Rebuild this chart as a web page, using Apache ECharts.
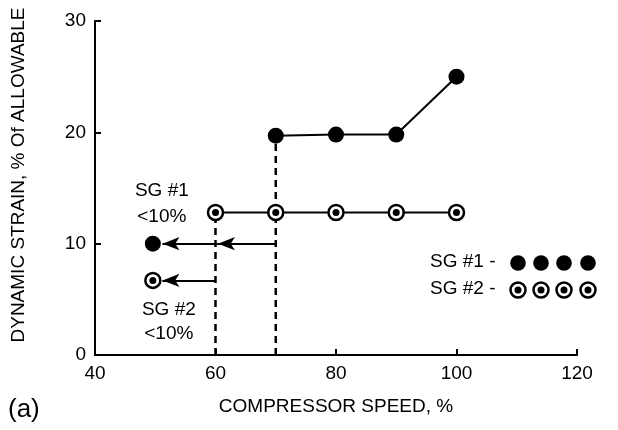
<!DOCTYPE html>
<html>
<head>
<meta charset="utf-8">
<script src="https://cdn.jsdelivr.net/npm/echarts@6/dist/echarts.min.js"></script>
<style>
  html, body { margin: 0; padding: 0; background: #fff; }
  #chart { width: 618px; height: 430px; }
</style>
</head>
<body>
<div id="chart"></div>
<script>
// data
var sg1Speed = [70, 80, 90, 100];
var sg1Strain = [19.7, 19.8, 19.8, 25];
var sg2Speed = [60, 70, 80, 90, 100];
var sg2Strain = [12.8, 12.8, 12.8, 12.8, 12.8];
var lowSpeed = 49.6;
var sg1Low = 10;
var sg2Low = 6.7;
var arrowTip = 51.2;
var xTicks = [40, 60, 80, 100, 120];
var yTicks = [0, 10, 20, 30];

var font = 'Liberation Sans, Arial, Helvetica, sans-serif';

function pairs(xs, ys) {
    var out = [];
    for (var i = 0; i < xs.length; i++) {
        out.push([xs[i], ys[i]]);
    }
    return out;
}

function madeChart() {
    var myChart = echarts.init(document.getElementById('chart'));

    var sg1 = pairs(sg1Speed, sg1Strain);
    var sg2 = pairs(sg2Speed, sg2Strain);
    var dash = { color: '#000', width: 2.5, type: [7, 5] };

    var option = {
        animation: false,
        grid: { left: 95, right: 41, top: 21, bottom: 75 },
        xAxis: {
            type: 'value', min: xTicks[0], max: xTicks[xTicks.length - 1], interval: 20,
            name: 'COMPRESSOR SPEED, %', nameLocation: 'middle', nameGap: 42,
            nameTextStyle: { fontFamily: font, fontSize: 19, color: '#000' },
            axisLine: { lineStyle: { color: '#000', width: 2 } },
            axisTick: { inside: true, length: 6, lineStyle: { color: '#000', width: 2 } },
            axisLabel: { fontFamily: font, fontSize: 19, color: '#000', margin: 9 },
            splitLine: { show: false }
        },
        yAxis: {
            type: 'value', min: yTicks[0], max: yTicks[yTicks.length - 1], interval: 10,
            name: 'DYNAMIC STRAIN, % Of ALLOWABLE', nameLocation: 'middle', nameGap: 67,
            nameTextStyle: { fontFamily: font, fontSize: 19, color: '#000', padding: [0, 0, 0, 26] },
            axisLine: { show: true, lineStyle: { color: '#000', width: 2 } },
            axisTick: { show: true, inside: true, length: 6, lineStyle: { color: '#000', width: 2 } },
            axisLabel: { fontFamily: font, fontSize: 19, color: '#000', margin: 9 },
            splitLine: { show: false }
        },
        series: [
            // dashed drops
            {
                type: 'line', symbol: 'none', z: 1,
                data: [[sg1Speed[0], 0], [sg1Speed[0], sg1Strain[0]]],
                lineStyle: dash
            },
            {
                type: 'line', symbol: 'none', z: 1,
                data: [[sg2Speed[0], 0], [sg2Speed[0], sg2Strain[0]]],
                lineStyle: dash
            },
            // arrows
            {
                type: 'line', symbol: 'none', data: [], z: 2,
                markLine: {
                    silent: true, symbol: ['none', 'arrow'], symbolSize: [10, 17],
                    lineStyle: { color: '#000', width: 2, type: 'solid' },
                    label: { show: false },
                    data: [
                        [{ coord: [sg1Speed[0], sg1Low] }, { coord: [60.4, sg1Low] }],
                        [{ coord: [60.4, sg1Low] }, { coord: [arrowTip, sg1Low] }],
                        [{ coord: [sg2Speed[0], sg2Low] }, { coord: [arrowTip, sg2Low] }]
                    ]
                }
            },
            // SG #1
            {
                type: 'line', data: sg1, z: 3,
                symbol: 'circle', symbolSize: 16,
                lineStyle: { color: '#000', width: 2 },
                itemStyle: { color: '#000' }
            },
            // SG #2 rings + dots
            {
                type: 'line', data: sg2, z: 3,
                symbol: 'circle', symbolSize: 15,
                lineStyle: { color: '#000', width: 2 },
                itemStyle: { color: '#fff', borderColor: '#000', borderWidth: 2.5 }
            },
            {
                type: 'scatter', data: sg2, z: 4, symbolSize: 7,
                itemStyle: { color: '#000', opacity: 1 }
            },
            // below 10% points
            {
                type: 'scatter', z: 4, symbolSize: 16,
                data: [[lowSpeed, sg1Low]],
                itemStyle: { color: '#000', opacity: 1 },
                label: {
                    show: true, position: 'top', distance: 6, offset: [9, 0],
                    formatter: 'SG #1\n<10%', fontFamily: font, fontSize: 19,
                    lineHeight: 26, color: '#000', align: 'center'
                }
            },
            {
                type: 'scatter', z: 4, symbolSize: 15,
                data: [[lowSpeed, sg2Low]],
                itemStyle: { color: '#fff', borderColor: '#000', borderWidth: 2.5, opacity: 1 },
                label: {
                    show: true, position: 'bottom', distance: 9, offset: [16, 0],
                    formatter: 'SG #2\n<10%', fontFamily: font, fontSize: 19,
                    lineHeight: 24, color: '#000', align: 'center'
                }
            },
            {
                type: 'scatter', z: 5, symbolSize: 7,
                data: [[lowSpeed, sg2Low]],
                itemStyle: { color: '#000', opacity: 1 }
            }
        ],
        graphic: legendGraphic()
    };

    myChart.setOption(option);
}

function legendGraphic() {
    var els = [];
    var xs = [518, 541, 564, 588];
    var rows = [{ text: 'SG #1 -', y: 263, ring: false }, { text: 'SG #2 -', y: 290, ring: true }];
    rows.forEach(function (r) {
        els.push({
            type: 'text', left: 430, top: r.y - 11,
            style: { text: r.text, font: '19px ' + font, fill: '#000' }
        });
        xs.forEach(function (x) {
            if (r.ring) {
                els.push({ type: 'circle', shape: { cx: x, cy: r.y, r: 7.5 },
                    style: { fill: '#fff', stroke: '#000', lineWidth: 2.5 } });
                els.push({ type: 'circle', shape: { cx: x, cy: r.y, r: 3.5 },
                    style: { fill: '#000' } });
            } else {
                els.push({ type: 'circle', shape: { cx: x, cy: r.y, r: 7.8 },
                    style: { fill: '#000' } });
            }
        });
    });
    els.push({
        type: 'text', left: 8, top: 397,
        style: { text: '(a)', font: '26px ' + font, fill: '#000' }
    });
    return els;
}

madeChart();
</script>
</body>
</html>
